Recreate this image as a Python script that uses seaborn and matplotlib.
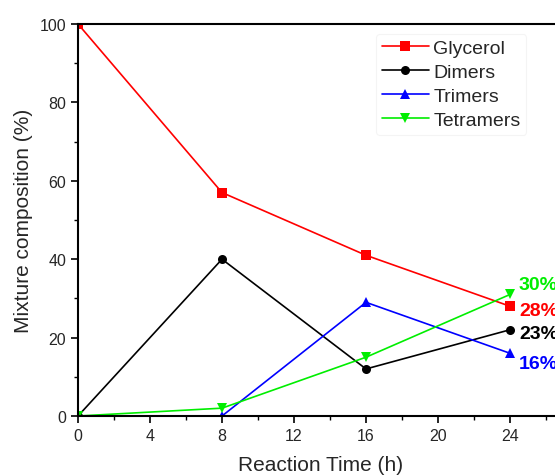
import matplotlib
matplotlib.use("Agg")
import matplotlib.pyplot as plt
import seaborn as sns
import pandas as pd
from matplotlib.ticker import MultipleLocator

time_h = [0, 8, 16, 24]
glycerol = [100, 57, 41, 28]
dimers = [0, 40, 12, 22]
trimers = [0, 0, 29, 16]
tetramers = [0, 2, 15, 31]
series_names = ["Glycerol", "Dimers", "Trimers", "Tetramers"]
end_labels = ["28%", "23%", "16%", "30%"]

colors = {"Glycerol": "#ff0000", "Dimers": "#000000", "Trimers": "#0000ff", "Tetramers": "#00ee00"}
markers = {"Glycerol": "s", "Dimers": "o", "Trimers": "^", "Tetramers": "v"}

rows = []
for name, vals in zip(series_names, [glycerol, dimers, trimers, tetramers]):
    for t, v in zip(time_h, vals):
        rows.append({"Time": t, "Value": v, "Series": name})
df = pd.DataFrame(rows)

sns.set_style("ticks")
plt.rcParams['font.family'] = ['Arial', 'Liberation Sans', 'DejaVu Sans']

fig = plt.figure(figsize=(5.55, 4.77), dpi=100)
ax = fig.add_axes([78/555, 60/477, 486/555, 392/477])

sns.lineplot(data=df, x="Time", y="Value", hue="Series", style="Series",
             palette=colors, markers=markers, dashes=False, markersize=6.5,
             linewidth=1.2, markeredgewidth=0, ax=ax, hue_order=series_names,
             style_order=series_names)

ax.set_xlim(0, 27)
ax.set_ylim(0, 100)
ax.xaxis.set_major_locator(MultipleLocator(4))
ax.xaxis.set_minor_locator(MultipleLocator(2))
ax.yaxis.set_major_locator(MultipleLocator(20))
ax.yaxis.set_minor_locator(MultipleLocator(10))
ax.tick_params(which="major", direction="out", length=5, width=1.2, labelsize=11.5, color="black")
ax.tick_params(which="minor", direction="out", length=3, width=1.0, color="black")
for s in ax.spines.values():
    s.set_linewidth(1.5)
    s.set_color("black")
ax.set_xlabel("Reaction Time (h)", fontsize=15, labelpad=9)
ax.set_ylabel("Mixture composition (%)", fontsize=15, labelpad=5)

label_pos = {"Tetramers": 33.5, "Glycerol": 27, "Dimers": 21, "Trimers": 13.5}
label_vals = dict(zip(series_names, end_labels))
for name in ["Tetramers", "Glycerol", "Dimers", "Trimers"]:
    ax.text(24.5, label_pos[name], label_vals[name], color=colors[name],
            fontsize=14, fontweight="bold", va="center", ha="left", clip_on=False)

leg = ax.legend(loc="upper left", bbox_to_anchor=(298/486, 0.975), fontsize=14,
                frameon=True, handlelength=2.4, handletextpad=0.25,
                labelspacing=0.32, borderpad=0.3, borderaxespad=0)
leg.get_frame().set_edgecolor("#f2f2f2")
leg.get_frame().set_linewidth(0.8)
for line in leg.get_lines():
    line.set_linewidth(1.2)

fig.savefig("out.png", dpi=100)
